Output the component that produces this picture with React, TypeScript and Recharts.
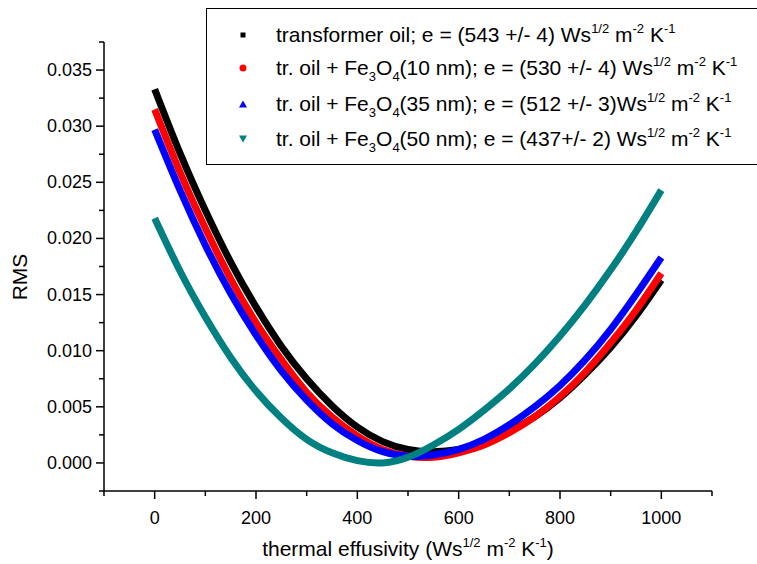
import React from "react";
import { LineChart, Line, XAxis, YAxis, Label } from "recharts";

/* ------------------------------------------------------------------ */
/*  Data                                          */
/* ------------------------------------------------------------------ */

const effusivity = [
  0, 50, 100, 150, 200, 250, 300, 350, 400, 450, 500,
  550, 600, 650, 700, 750, 800, 850, 900, 950, 1000,
];

const transformerOil = [
  0.0333, 0.0276, 0.0225, 0.0179, 0.0139, 0.0104, 0.0075, 0.0051, 0.0032, 0.0019, 0.0012,
  0.001, 0.0012, 0.0018, 0.0028, 0.0041, 0.0058, 0.0079, 0.0103, 0.0131, 0.0163,
];

const fe10nm = [
  0.0315, 0.0259, 0.0209, 0.0164, 0.0125, 0.0092, 0.0063, 0.0041, 0.0024, 0.0012, 0.0006,
  0.0005, 0.0009, 0.0016, 0.0027, 0.0041, 0.0059, 0.0081, 0.0107, 0.0136, 0.0169,
];

const fe35nm = [
  0.0297, 0.0243, 0.0194, 0.0151, 0.0114, 0.0082, 0.0056, 0.0035, 0.002, 0.001, 0.0006,
  0.0007, 0.0012, 0.0021, 0.0034, 0.005, 0.0069, 0.0092, 0.0119, 0.015, 0.0183,
];

const fe50nm = [
  0.0218, 0.0171, 0.013, 0.0094, 0.0064, 0.004, 0.0021, 0.0009, 0.0002, 0.0, 0.0005,
  0.0016, 0.003, 0.0047, 0.0066, 0.0088, 0.0113, 0.0141, 0.0172, 0.0206, 0.0243,
];

const xTicks = [-100, 0, 100, 200, 300, 400, 500, 600, 700, 800, 900, 1000, 1100];
const xLabels = [0, 200, 400, 600, 800, 1000];

const yTicks = [
  -0.0025, 0, 0.0025, 0.005, 0.0075, 0.01, 0.0125, 0.015, 0.0175,
  0.02, 0.0225, 0.025, 0.0275, 0.03, 0.0325, 0.035, 0.0375,
];
const yLabels = [0, 0.005, 0.01, 0.015, 0.02, 0.025, 0.03, 0.035];

const seriesNames = [
  "transformer oil",
  "tr. oil + Fe3O4(10 nm)",
  "tr. oil + Fe3O4(35 nm)",
  "tr. oil + Fe3O4(50 nm)",
];
const effusivityText = ["(543 +/- 4) ", "(530 +/- 4) ", "(512 +/- 3)", "(437+/- 2) "];
const seriesColors = ["#000000", "#ff0000", "#0000ff", "#008080"];
const seriesKeys = ["oil", "nm10", "nm35", "nm50"];

const data = effusivity.map((e, i) => ({
  e,
  oil: transformerOil[i],
  nm10: fe10nm[i],
  nm35: fe35nm[i],
  nm50: fe50nm[i],
}));

/* ------------------------------------------------------------------ */
/*  Helpers                                                            */
/* ------------------------------------------------------------------ */

const FONT = "Arial, 'Liberation Sans', sans-serif";
const isMajor = (list: number[], v: number) => list.some((m) => Math.abs(m - v) < 1e-9);

function XTick(props: any) {
  const { x, y, payload } = props;
  const major = isMajor(xLabels, payload.value);
  return (
    <g>
      <line x1={x} y1={y} x2={x} y2={y + (major ? 8 : 5)} stroke="#000" strokeWidth={1.5} />
      {major && (
        <text x={x} y={y + 33} textAnchor="middle" fontSize={18} fontFamily={FONT} fill="#000">
          {payload.value}
        </text>
      )}
    </g>
  );
}

function YTick(props: any) {
  const { x, y, payload } = props;
  const major = isMajor(yLabels, payload.value);
  return (
    <g>
      <line x1={x - (major ? 8 : 5)} y1={y} x2={x} y2={y} stroke="#000" strokeWidth={1.5} />
      {major && (
        <text x={x - 12} y={y + 6} textAnchor="end" fontSize={18} fontFamily={FONT} fill="#000">
          {payload.value.toFixed(3)}
        </text>
      )}
    </g>
  );
}

function Marker({ index, color }: { index: number; color: string }) {
  return (
    <svg width={10} height={10} style={{ position: "absolute", left: 31, top: 6 }}>
      {index === 0 && <rect x={2.5} y={2.5} width={5} height={5} fill={color} />}
      {index === 1 && <circle cx={5} cy={5} r={3.5} fill={color} />}
      {index === 2 && <polygon points="1,8.5 9,8.5 5,1.5" fill={color} />}
      {index === 3 && <polygon points="1,1.5 9,1.5 5,8.5" fill={color} />}
    </svg>
  );
}

const sub = { fontSize: 13, verticalAlign: "-6px", lineHeight: 0 } as React.CSSProperties;
const sup = { fontSize: 13, verticalAlign: "9px", lineHeight: 0 } as React.CSSProperties;

// "tr. oil + Fe3O4(10 nm)" -> subscript the formula digits
function Chem({ text }: { text: string }) {
  const m = text.match(/^(.*Fe)(\d)(O)(\d)(.*)$/);
  if (!m) return <>{text}</>;
  return (
    <>
      {m[1]}
      <span style={sub}>{m[2]}</span>
      {m[3]}
      <span style={sub}>{m[4]}</span>
      {m[5]}
    </>
  );
}

function Units() {
  return (
    <>
      Ws<span style={sup}>1/2</span> m<span style={sup}>-2</span> K<span style={sup}>-1</span>
    </>
  );
}

const rowCenters = [34, 67, 103, 138];

/* ------------------------------------------------------------------ */
/*  Component                                                          */
/* ------------------------------------------------------------------ */

export default function App() {
  return (
    <div
      style={{
        position: "absolute",
        left: 0,
        top: 0,
        width: 757,
        height: 564,
        overflow: "hidden",
        background: "#fff",
      }}
    >
      <LineChart
        width={757}
        height={564}
        data={data}
        margin={{ top: 42, right: 45, bottom: 43, left: 44 }}
      >
        <XAxis
          dataKey="e"
          type="number"
          domain={[-100, 1100]}
          ticks={xTicks}
          interval={0}
          tickLine={false}
          tickSize={0}
          tickMargin={0}
          height={30}
          axisLine={{ stroke: "#000", strokeWidth: 1.5 }}
          tick={<XTick />}
        >
          <Label
            content={() => (
              <text x={408} y={556} textAnchor="middle" fontSize={21} fontFamily={FONT} fill="#000">
                <tspan>thermal effusivity (Ws</tspan>
                <tspan fontSize={13} dy={-9}>1/2</tspan>
                <tspan dy={9}> m</tspan>
                <tspan fontSize={13} dy={-9}>-2</tspan>
                <tspan dy={9}> K</tspan>
                <tspan fontSize={13} dy={-9}>-1</tspan>
                <tspan dy={9}>)</tspan>
              </text>
            )}
          />
        </XAxis>
        <YAxis
          type="number"
          domain={[-0.0025, 0.0375]}
          ticks={yTicks}
          interval={0}
          tickLine={false}
          tickSize={0}
          tickMargin={0}
          width={60}
          axisLine={{ stroke: "#000", strokeWidth: 1.5 }}
          tick={<YTick />}
        >
          <Label
            content={() => (
              <text
                x={27}
                y={277}
                textAnchor="middle"
                fontSize={21}
                fontFamily={FONT}
                fill="#000"
                transform="rotate(-90 27 277)"
              >
                RMS
              </text>
            )}
          />
        </YAxis>
        {seriesKeys.map((k, i) => (
          <Line
            key={k}
            dataKey={k}
            type="natural"
            stroke={seriesColors[i]}
            strokeWidth={7}
            dot={false}
            activeDot={false}
            isAnimationActive={false}
          />
        ))}
      </LineChart>

      <div
        style={{
          position: "absolute",
          left: 206,
          top: 8,
          width: 600,
          height: 155,
          border: "1.5px solid #000",
          background: "#fff",
          fontFamily: FONT,
          fontSize: 21,
          color: "#000",
        }}
      >
        {seriesNames.map((name, i) => (
          <div
            key={name}
            style={{
              position: "absolute",
              left: 0,
              top: rowCenters[i] - 8 - 11,
              height: 22,
              lineHeight: "22px",
              whiteSpace: "nowrap",
            }}
          >
            <Marker index={i} color={seriesColors[i]} />
            <span style={{ position: "absolute", left: 69, top: 0 }}>
              <Chem text={name} />; e = {effusivityText[i]}
              <Units />
            </span>
          </div>
        ))}
      </div>
    </div>
  );
}
